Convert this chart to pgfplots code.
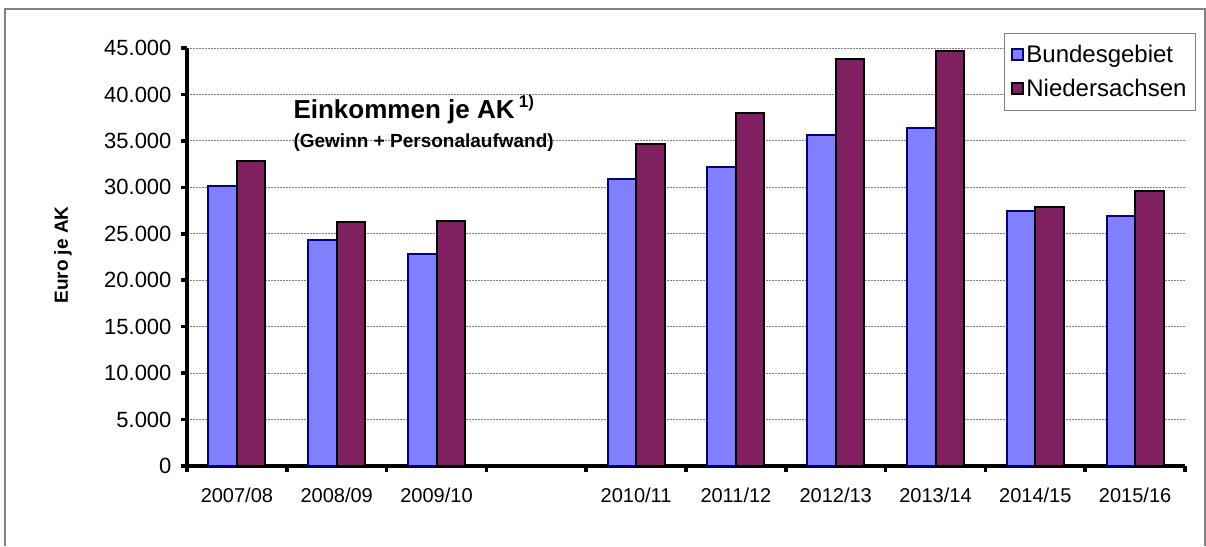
\documentclass[border=0pt]{standalone}
\usepackage{pgfplots}
\pgfplotsset{compat=1.18}
\usepackage{fontspec}
\setmainfont{Liberation Sans}
\definecolor{bund}{RGB}{128,128,255}
\definecolor{bundedge}{RGB}{0,0,128}
\definecolor{nds}{RGB}{128,32,96}
\definecolor{framegray}{RGB}{130,130,130}
\begin{document}
\begin{tikzpicture}[x=1pt,y=1pt]
\useasboundingbox (-187,-80) rectangle (1019,466);
\draw[framegray, line width=1.2pt] (-182,-80) -- (-182,457) -- (1018,457) -- (1018,-80);
\begin{axis}[
  at={(0,0)}, anchor=south west,
  width=998pt, height=418pt, scale only axis,
  xmin=-0.5, xmax=9.5, ymin=0, ymax=45000,
  axis x line*=bottom, axis y line*=left,
  axis line style={line width=3.5pt, black},
  ybar=0pt, bar width=28.5pt,
  xtick={-0.5,0.5,...,9.5},
  x tick label as interval=true,
  xticklabels={2007/08,2008/09,2009/10,,2010/11,2011/12,2012/13,2013/14,2014/15,2015/16},
  ytick={0,5000,...,45000},
  scaled y ticks=false,
  tick align=outside,
  major tick length=6pt,
  tick style={line width=3.5pt, black},
  yticklabel={\pgfmathprintnumber[fixed, precision=0, 1000 sep={.}, assume math mode=true]{\tick}},
  yticklabel style={font=\fontsize{22pt}{26pt}\selectfont, xshift=-6pt},
  xticklabel style={font=\fontsize{20pt}{24pt}\selectfont, yshift=-12pt},
  ymajorgrids,
  major grid style={draw=gray, line width=0.8pt, dash pattern=on 2pt off 1pt},
  legend image code/.code={\draw[#1] (0pt,-5.5pt) rectangle (11pt,5.5pt);},
  legend style={at={(1.011,1.036)}, anchor=north east, draw=framegray, line width=1pt,
    font=\fontsize{24pt}{28pt}\selectfont, row sep=11pt, inner xsep=7pt, inner ysep=10pt,
    cells={anchor=west}},
  legend cell align=left,
]
\addplot[fill=bund, draw=bundedge, line width=2pt] coordinates {
 (0,30100) (1,24350) (2,22840) (4,30940) (5,32170) (6,35600) (7,36430) (8,27410) (9,26900)};
\addplot[fill=nds, draw=black, line width=2pt] coordinates {
 (0,32860) (1,26220) (2,26400) (4,34640) (5,38040) (6,43800) (7,44640) (8,27880) (9,29640)};
\legend{Bundesgebiet,Niedersachsen}
\end{axis}
\node[anchor=base west, font=\bfseries\fontsize{26pt}{30pt}\selectfont] at (103,347) {Einkommen je AK\,\raisebox{0.45em}{\fontsize{17pt}{19pt}\selectfont 1)}};
\node[anchor=base west, font=\bfseries\fontsize{19pt}{22pt}\selectfont] at (103,318) {(Gewinn + Personalaufwand)};
\node[rotate=90, font=\bfseries\fontsize{19pt}{22pt}\selectfont] at (-124,211) {Euro je AK};
\end{tikzpicture}
\end{document}
